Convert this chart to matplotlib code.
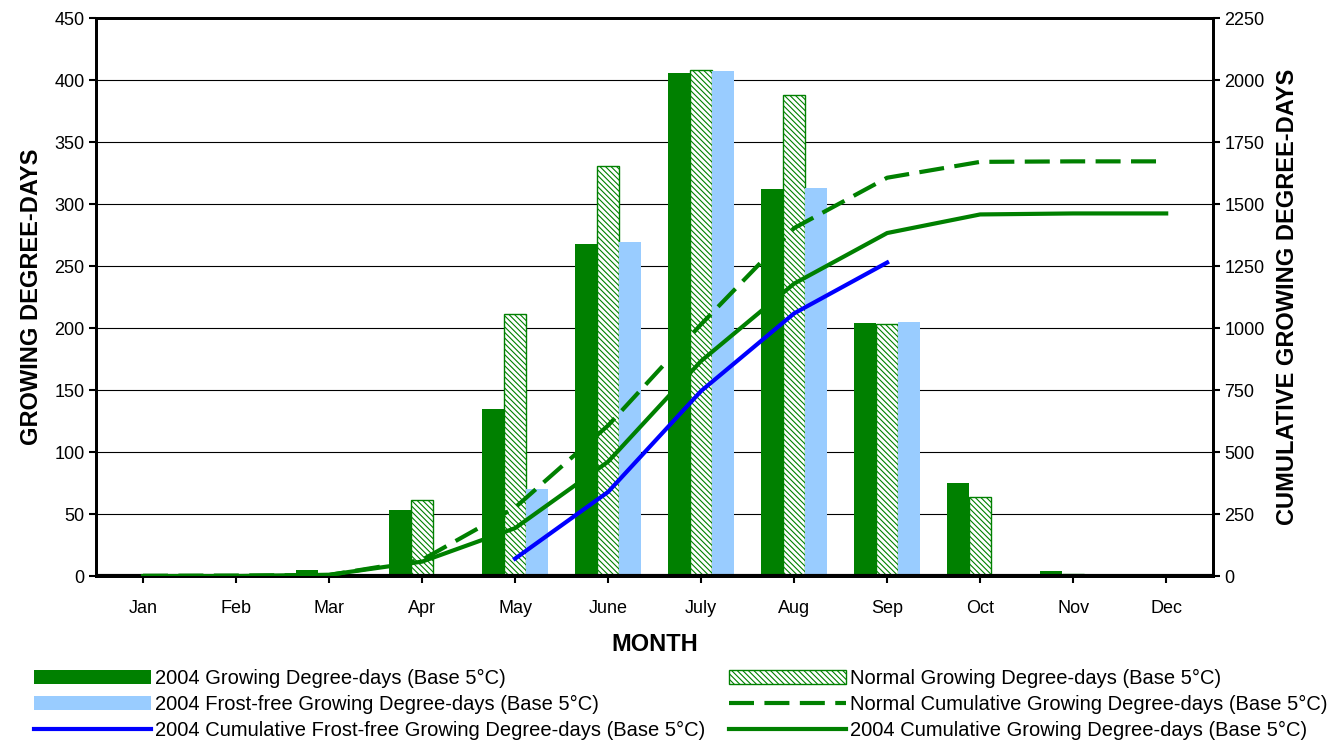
import numpy as np
import matplotlib.pyplot as plt
import matplotlib as mpl

months = ['Jan', 'Feb', 'Mar', 'Apr', 'May', 'June', 'July', 'Aug', 'Sep', 'Oct', 'Nov', 'Dec']
gdd_2004 = [0, 0, 5, 53, 135, 268, 406, 312, 204, 75, 4, 0]
gdd_normal = [1, 1, 2, 61, 211, 331, 408, 388, 203, 64, 2, 0]
gdd_frostfree = [0, 0, 0, 0, 70, 269, 407, 313, 205, 0, 0, 0]
cum_normal = [1, 2, 4, 65, 276, 607, 1015, 1403, 1606, 1670, 1672, 1672]
cum_2004 = [0, 0, 5, 58, 193, 461, 867, 1179, 1383, 1458, 1462, 1462]
ff_months = [4, 5, 6, 7, 8]
cum_frostfree = [70, 339, 746, 1059, 1264]

mpl.rcParams['font.family'] = 'Liberation Sans'
mpl.rcParams['hatch.color'] = '#008000'
mpl.rcParams['hatch.linewidth'] = 0.8

green = '#008000'
blue_l = '#99CCFF'
x = np.arange(12)
w = 0.235

fig = plt.figure(figsize=(13.4, 7.51), dpi=100)
ax = fig.add_axes([0.072, 0.233, 0.833, 0.743])
ax2 = ax.twinx()

b1 = ax.bar(x - w, gdd_2004, w, color=green, zorder=3)
b2 = ax.bar(x, gdd_normal, w, facecolor='white', edgecolor=green, hatch='\\\\\\\\\\\\', lw=1, zorder=3)
b3 = ax.bar(x + w, gdd_frostfree, w, color=blue_l, zorder=3)

l1, = ax2.plot(x, cum_normal, color=green, lw=3, ls=(0, (6, 2.5)), zorder=4)
l2, = ax2.plot(x, cum_2004, color=green, lw=3, zorder=4)
l3, = ax2.plot(ff_months, cum_frostfree, color='#0000FF', lw=3, zorder=4)

ax.set_xlim(-0.5, 11.5)
ax.set_ylim(0, 450)
ax.set_yticks(range(0, 451, 50))
ax2.set_ylim(0, 2250)
ax2.set_yticks(range(0, 2251, 250))
ax.set_xticks(x)
ax.set_xticklabels(months)
ax.yaxis.grid(True, color='black', lw=0.8, zorder=0)
ax.set_axisbelow(True)
for a in (ax, ax2):
    for s in a.spines.values():
        s.set_linewidth(2)
    a.tick_params(labelsize=13, width=1.5, length=5)
ax.tick_params(axis='x', pad=12)
ax.axhline(0, color='black', lw=3, zorder=5)

ax.set_xlabel('MONTH', fontsize=17, fontweight='bold', labelpad=12)
ax.set_ylabel('GROWING DEGREE-DAYS', fontsize=17, fontweight='bold', labelpad=8)
ax2.set_ylabel('CUMULATIVE GROWING DEGREE-DAYS', fontsize=17, fontweight='bold', labelpad=8)

# legend filled column-wise, so order to read row-wise like the original
handles = [b1, b3, l3, b2, l1, l2]
labels = ['2004 Growing Degree-days (Base 5°C)',
          '2004 Frost-free Growing Degree-days (Base 5°C)',
          '2004 Cumulative Frost-free Growing Degree-days (Base 5°C)',
          'Normal Growing Degree-days (Base 5°C)',
          'Normal Cumulative Growing Degree-days (Base 5°C)',
          '2004 Cumulative Growing Degree-days (Base 5°C)']
fig.legend(handles, labels, loc='lower left', bbox_to_anchor=(0.012, -0.01), ncol=2, frameon=False,
           fontsize=14.5, handlelength=5.8, handletextpad=0.2, columnspacing=1.2, labelspacing=0.35)

fig.savefig('out.png')
